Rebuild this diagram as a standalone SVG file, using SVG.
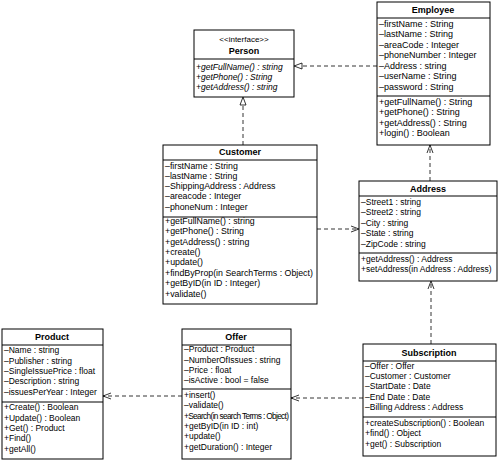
<svg xmlns="http://www.w3.org/2000/svg" width="500" height="461" viewBox="0 0 500 461">
<defs>
<style>
.box{fill:#fff;stroke:#000;stroke-width:1}
.div{stroke:#000;stroke-width:1}
text{font-family:"Liberation Sans",Arial,sans-serif;font-size:8.5px;fill:#000}
.t{font-weight:bold;font-size:9px;text-anchor:middle}
.st{font-size:8px;text-anchor:middle}
.i{font-style:italic}
.e text{font-size:9px}
.cu text{font-size:8.8px}
.e text.t,.cu text.t{font-size:9px}
.c{fill:none;stroke:#000;stroke-width:0.8;stroke-dasharray:4,3}
</style>
<marker id="tri" markerWidth="10" markerHeight="10" refX="9" refY="4" orient="auto" markerUnits="userSpaceOnUse">
<path d="M1,1 L9,4 L1,7 Z" fill="#fff" stroke="#000" stroke-width="0.8"/>
</marker>
<marker id="open" markerWidth="10" markerHeight="10" refX="9" refY="4" orient="auto" markerUnits="userSpaceOnUse">
<path d="M1,1 L9,4 L1,7" fill="none" stroke="#000" stroke-width="0.8"/>
</marker>
</defs>

<g id="connectors">
<line class="c" x1="377" y1="66" x2="294" y2="66" marker-end="url(#tri)"/>
<line class="c" x1="243" y1="145" x2="243" y2="97" marker-end="url(#tri)"/>
<line class="c" x1="430" y1="181" x2="430" y2="145" marker-end="url(#open)"/>
<line class="c" x1="317" y1="229" x2="359" y2="229" marker-end="url(#open)"/>
<line class="c" x1="431" y1="344" x2="431" y2="281" marker-end="url(#open)"/>
<line class="c" x1="363" y1="398" x2="291" y2="398" marker-end="url(#open)"/>
<line class="c" x1="182" y1="396" x2="103" y2="396" marker-end="url(#open)"/>
</g>

<g id="person">
<rect class="box" x="194" y="30" width="100" height="67"/>
<line class="div" x1="194" y1="59" x2="294" y2="59"/>
<text class="st" x="244" y="42">&lt;&lt;interface&gt;&gt;</text>
<text class="t" x="244" y="54">Person</text>
<text class="i" x="196" y="70">+getFullName() : string</text>
<text class="i" x="196" y="80">+getPhone() : String</text>
<text class="i" x="196" y="90">+getAddress() : string</text>
</g>

<g id="employee" class="e">
<rect class="box" x="377" y="2" width="113" height="143"/>
<line class="div" x1="377" y1="18" x2="490" y2="18"/>
<text class="t" x="433" y="13">Employee</text>
<text x="379" y="27">–firstName : String</text>
<text x="379" y="37">–lastName : String</text>
<text x="379" y="48">–areaCode : Integer</text>
<text x="379" y="58">–phoneNumber : Integer</text>
<text x="379" y="69">–Address : string</text>
<text x="379" y="79">–userName : String</text>
<text x="379" y="90">–password : String</text>
<line class="div" x1="377" y1="96" x2="490" y2="96"/>
<text x="379" y="105">+getFullName() : String</text>
<text x="379" y="115">+getPhone() : String</text>
<text x="379" y="126">+getAddress() : String</text>
<text x="379" y="136">+login() : Boolean</text>
</g>

<g id="customer" class="cu">
<rect class="box" x="163" y="145" width="154" height="159"/>
<line class="div" x1="163" y1="160" x2="317" y2="160"/>
<text class="t" x="240" y="155">Customer</text>
<text x="165" y="169">–firstName : String</text>
<text x="165" y="179">–lastName : String</text>
<text x="165" y="189">–ShippingAddress : Address</text>
<text x="165" y="199">–areacode : Integer</text>
<text x="165" y="210">–phoneNum : Integer</text>
<line class="div" x1="163" y1="217" x2="317" y2="217"/>
<text x="165" y="224">+getFullName() : string</text>
<text x="165" y="234">+getPhone() : String</text>
<text x="165" y="245">+getAddress() : string</text>
<text x="165" y="255">+create()</text>
<text x="165" y="265">+update()</text>
<text x="165" y="276">+findByProp(in SearchTerms : Object)</text>
<text x="165" y="286">+getByID(in ID : Integer)</text>
<text x="165" y="297">+validate()</text>
</g>

<g id="address">
<rect class="box" x="359" y="181" width="138" height="100"/>
<line class="div" x1="359" y1="196" x2="497" y2="196"/>
<text class="t" x="428" y="192">Address</text>
<text x="361" y="205">–Street1 : string</text>
<text x="361" y="215">–Street2 : string</text>
<text x="361" y="226">–City : string</text>
<text x="361" y="236">–State : string</text>
<text x="361" y="247">–ZipCode : string</text>
<line class="div" x1="359" y1="253" x2="497" y2="253"/>
<text x="361" y="262">+getAddress() : Address</text>
<text x="361" y="272">+setAddress(in Address : Address)</text>
</g>

<g id="product">
<rect class="box" x="2" y="329" width="101" height="130"/>
<line class="div" x1="2" y1="345" x2="103" y2="345"/>
<text class="t" x="52" y="340">Product</text>
<text x="4" y="353">–Name : string</text>
<text x="4" y="364">–Publisher : string</text>
<text x="4" y="374">–SingleIssuePrice : float</text>
<text x="4" y="384">–Description : string</text>
<text x="4" y="395">–issuesPerYear : Integer</text>
<line class="div" x1="2" y1="402" x2="103" y2="402"/>
<text x="4" y="410">+Create() : Boolean</text>
<text x="4" y="421">+Update() : Boolean</text>
<text x="4" y="431">+Get() : Product</text>
<text x="4" y="441">+Find()</text>
<text x="4" y="452">+getAll()</text>
</g>

<g id="offer">
<rect class="box" x="182" y="329" width="109" height="130"/>
<line class="div" x1="182" y1="345" x2="291" y2="345"/>
<text class="t" x="236" y="340">Offer</text>
<text x="184" y="352">–Product : Product</text>
<text x="184" y="363">–NumberOfIssues : string</text>
<text x="184" y="373">–Price : float</text>
<text x="184" y="383">–isActive : bool = false</text>
<line class="div" x1="182" y1="389" x2="291" y2="389"/>
<text x="184" y="398">+insert()</text>
<text x="184" y="408">–validate()</text>
<text x="184" y="419" style="font-size:8.3px" textLength="105" lengthAdjust="spacing">+Search(in search Terms : Object)</text>
<text x="184" y="429">+getByID(in ID : int)</text>
<text x="184" y="439">+update()</text>
<text x="184" y="450">+getDuration() : Integer</text>
</g>

<g id="subscription">
<rect class="box" x="363" y="344" width="133" height="112"/>
<line class="div" x1="363" y1="361" x2="496" y2="361"/>
<text class="t" x="429" y="356">Subscription</text>
<text x="365" y="369">–Offer : Offer</text>
<text x="365" y="379">–Customer : Customer</text>
<text x="365" y="389">–StartDate : Date</text>
<text x="365" y="400">–End Date : Date</text>
<text x="365" y="410">–Billing Address : Address</text>
<line class="div" x1="363" y1="417" x2="496" y2="417"/>
<text x="365" y="426">+createSubscription() : Boolean</text>
<text x="365" y="436">+find() : Object</text>
<text x="365" y="447">+get() : Subscription</text>
</g>
</svg>
